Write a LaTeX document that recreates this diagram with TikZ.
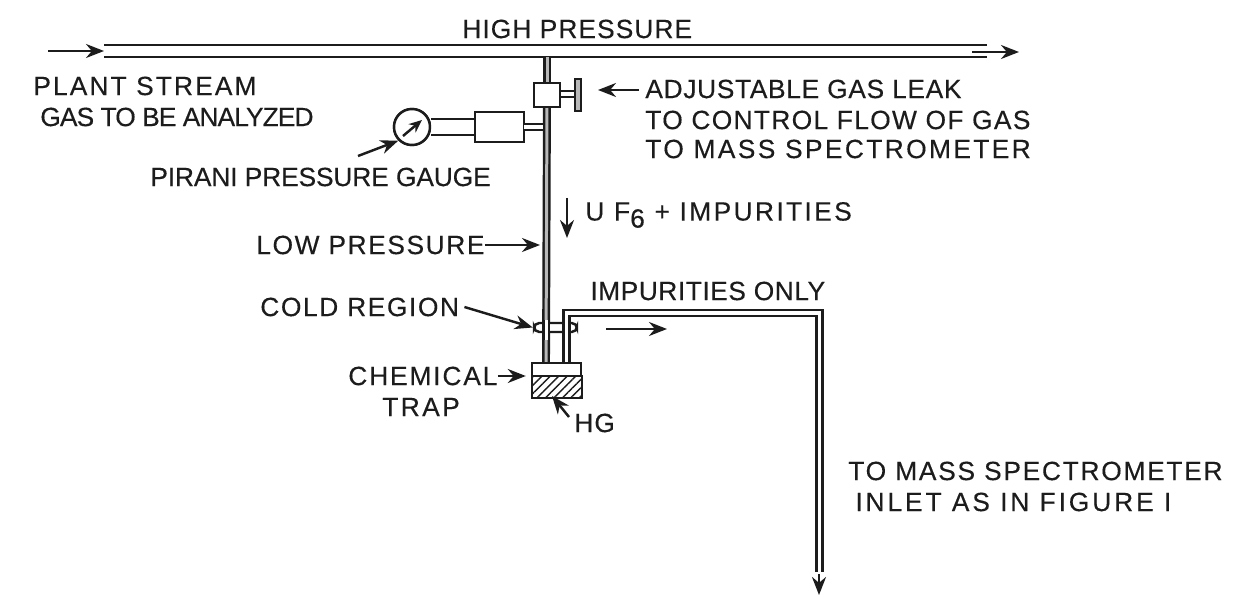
\documentclass[tikz,border=0pt]{standalone}
\usepackage{fontspec}
\setmainfont{Liberation Sans}[FakeBold=0.3]
\usetikzlibrary{arrows.meta,patterns.meta}
\definecolor{ink}{HTML}{1C1C1C}
\definecolor{tubefill}{HTML}{B8B8B8}
\tikzset{
  lbl/.style   ={anchor=west,inner sep=0pt,text=ink,
                 font=\fontsize{15}{17}\selectfont\addfontfeature{LetterSpace=#1}},
  lbl/.default =4,
  part/.style  ={draw=ink,line width=1.4pt,fill=white,inner sep=0pt},
  wall/.style  ={draw=ink,line width=1.4pt},
  pipe/.style  ={draw=ink,line width=1.4pt,double=white,double distance=0.19cm},
  tube/.style  ={draw=ink,line width=1.4pt,double=white,double distance=0.075cm},
  thin/.style  ={draw=ink,line width=1.4pt,double=tubefill,double distance=0.06cm},
  flow/.style  ={-{Stealth[length=3.6mm,width=2.8mm]},line width=1.4pt,draw=ink},
}
\begin{document}
\begin{tikzpicture}[x=0.02cm,y=-0.02cm]
  \useasboundingbox (0,0) rectangle (1240,597);
  % main line
  \coordinate (mainin) at (104,51);
  \coordinate (mainout) at (987,51);
  \draw[pipe] (mainin) -- (mainout);
  \node[lbl=4] (high) at (462,29) {HIGH PRESSURE};
  \coordinate (feed) at (48,51);
  \draw[flow] (feed) -- (mainin);
  \coordinate (outa) at (972,52);
  \coordinate (outb) at (1019,52);
  \draw[flow] (outa) -- (outb);
  \node[lbl=8] (plant) at (33,86) {PLANT STREAM};
  \node[lbl=-3.5] (gas) at (40,117) {GAS TO BE ANALYZED};
  % leak and gauge
  \node[part,minimum width=0.52cm,minimum height=0.48cm] (valve) at (547,95) {};
  \coordinate (tap) at (547,57);
  \coordinate (foot) at (546,363);
  \draw[thin] (tap) -- (valve);
  \draw[thin] (valve) -- (foot);
  \node[part,fill=tubefill,minimum width=0.12cm,minimum height=0.64cm] (handle) at (578,95) {};
  \draw[tube] (valve.east |- 0,94) -- (handle.west |- 0,94);
  \node[part,minimum width=0.98cm,minimum height=0.6cm] (head) at (499.5,127) {};
  \node[part,circle,minimum size=0.72cm] (dial) at (412,127) {};
  \draw[pipe,double distance=0.27cm] (dial) -- (head);
  \node[part,minimum width=0.98cm,minimum height=0.6cm] at (head) {};
  \node[part,circle,minimum size=0.72cm] at (dial) {};
  \coordinate (headjoin) at (543,127);
  \draw[tube,double distance=0.07cm] (head) ++(24.5,0) -- (headjoin);
  \coordinate (needlea) at (403,136);
  \coordinate (needleb) at (422,120);
  \draw[flow,-{Stealth[length=2.6mm,width=2.2mm]}] (needlea) -- (needleb);
  \node[lbl=2.5] (leak) at (645,89) {ADJUSTABLE GAS LEAK};
  \node[lbl=5] (control) at (645,120) {TO CONTROL FLOW OF GAS};
  \node[lbl=9] (tomass) at (645,149) {TO MASS SPECTROMETER};
  \coordinate (leakend) at (598,90);
  \draw[flow] (leak.west) ++(-6,1) -- (leakend);
  \node[lbl=-0.5] (pirani) at (150,177) {PIRANI PRESSURE GAUGE};
  \coordinate (piranifrom) at (358,156);
  \draw[flow] (piranifrom) -- (dial.south west);
  % flow labels
  \node[lbl=9] (uf) at (585,215) {U F\raisebox{-4pt}{6} + IMPURITIES};
  \coordinate (ufa) at (567,198);
  \coordinate (ufb) at (567,238);
  \draw[flow] (ufa) -- (ufb);
  \node[lbl=6] (low) at (256,245) {LOW PRESSURE};
  \coordinate (lowend) at (540,245);
  \draw[flow] (low.east) -- (lowend);
  % trap and return line
  \node[lbl=2] (only) at (590,291) {IMPURITIES ONLY};
  \node[part,rounded corners=3pt,minimum width=0.86cm,minimum height=0.18cm] (clamp) at (555.5,327.5) {};
  \draw[thin,double=white] (546,320) -- (546,340);
  \coordinate (bendc) at (566.5,313);
  \coordinate (benda) at (819.5,313);
  \coordinate (outlet) at (819.5,572);
  \node[part,minimum width=0.98cm,minimum height=0.68cm] (trap) at (556.5,380) {};
  \draw[tube] (trap.north -| bendc) -- (bendc) -- (benda) -- (outlet);
  \coordinate (outa2) at (819,574);
  \coordinate (outb2) at (819,595);
  \draw[flow] (outa2) -- (outb2);
  \coordinate (level) at (532,376);
  \fill[white] (level) rectangle (trap.south east);
  \draw[wall,pattern={Lines[angle=45,distance=3.4pt,line width=.8pt]},pattern color=ink] (level) rectangle (trap.south east);
  \node[lbl=6] (cold) at (260,307) {COLD REGION};
  \draw[flow] (cold.east) ++(5,0) -- (clamp.west);
  \coordinate (thruflowa) at (606,329);
  \coordinate (thruflowb) at (667,329);
  \draw[flow] (thruflowa) -- (thruflowb);
  \node[lbl=7] (chem) at (348,376) {CHEMICAL};
  \draw[flow] (chem.east) -- ([xshift=-0.1cm]trap.west |- chem);
  \node[lbl=9] (trapl) at (382,407) {TRAP};
  \node[lbl] (hg) at (574,423) {HG};
  \coordinate (hgend) at (552,396);
  \draw[flow] (hg.west) ++(-5,-6) -- (hgend);
  \node[lbl=6.5] (inlet) at (848,471) {TO MASS SPECTROMETER};
  \node[lbl=11] (fig) at (855,502) {INLET AS IN FIGURE I};
\end{tikzpicture}
\end{document}
